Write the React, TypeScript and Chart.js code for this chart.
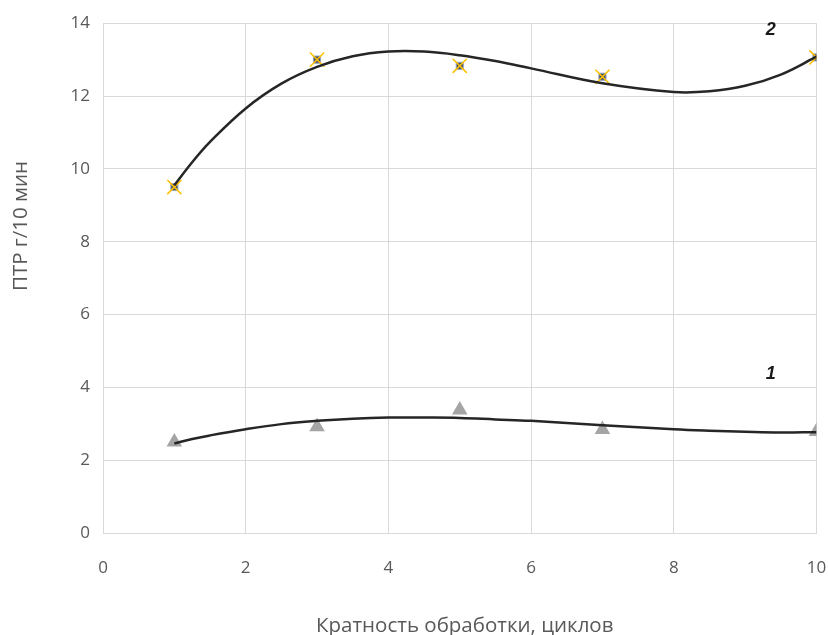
import React, { useEffect, useRef } from "react";
import { Chart, registerables } from "chart.js";

Chart.register(...registerables);

// Measured points
const cycles = [1, 3, 5, 7, 10];
const ptr1 = [2.5, 2.92, 3.38, 2.84, 2.79];
const ptr2 = [9.5, 13.0, 12.83, 12.53, 13.06];

// Polynomial trend curves
const trendX = [1, 1.25, 1.5, 2, 2.5, 3, 3.5, 4, 4.5, 5, 5.5, 6, 7, 8, 8.5, 9, 9.5, 10];
const trend1 = [2.46, 2.58, 2.68, 2.85, 2.99, 3.08, 3.14, 3.17, 3.17, 3.16, 3.12, 3.08, 2.96, 2.85, 2.81, 2.78, 2.76, 2.77];
const trend2 = [9.55, 10.18, 10.74, 11.66, 12.34, 12.8, 13.09, 13.22, 13.22, 13.12, 12.96, 12.76, 12.35, 12.11, 12.13, 12.28, 12.59, 13.08];

// Axis ranges / labels
const xMin = 0;
const xMax = 10;
const xStep = 2;
const yMin = 0;
const yMax = 14;
const yStep = 2;
const xTitle = "Кратность обработки, циклов";
const yTitle = "ПТР г/10 мин";
const curveLabels = ["1", "2"];

const FONT = "'Open Sans', 'Noto Sans', sans-serif";

export default function App() {
  const ref = useRef<HTMLCanvasElement | null>(null);

  useEffect(() => {
    document.body.style.margin = "0";
    const canvas = ref.current;
    if (!canvas) return;

    const pts = (xs: number[], ys: number[]) => xs.map((x, i) => ({ x, y: ys[i] }));

    const labelAnchors = [
      { x: 9.36, y: 4.36 },
      { x: 9.36, y: 13.81 },
    ];

    const textPlugin = {
      id: "axisTexts",
      afterDraw(chart: any) {
        const c = chart.ctx as CanvasRenderingContext2D;
        const { chartArea, scales } = chart;
        c.save();
        c.fillStyle = "#595959";
        c.font = `20.5px ${FONT}`;
        c.textAlign = "center";
        c.textBaseline = "middle";
        c.fillText(xTitle, (chartArea.left + chartArea.right) / 2 + 5, 626);
        c.translate(21, 226);
        c.rotate(-Math.PI / 2);
        c.fillText(yTitle, 0, 0);
        c.restore();

        c.save();
        c.fillStyle = "#1a1a1a";
        c.font = "italic bold 18px 'Liberation Sans', Arial, sans-serif";
        c.textAlign = "center";
        c.textBaseline = "middle";
        curveLabels.forEach((t, i) => {
          c.fillText(
            t,
            scales.x.getPixelForValue(labelAnchors[i].x),
            scales.y.getPixelForValue(labelAnchors[i].y)
          );
        });
        c.restore();
      },
    };

    const chart = new Chart(canvas, {
      type: "scatter",
      data: {
        datasets: [
          {
            label: "trend1",
            data: pts(trendX, trend1),
            showLine: true,
            borderColor: "#262626",
            borderWidth: 2.5,
            pointRadius: 0,
            tension: 0.4,
            order: 0,
          },
          {
            label: "trend2",
            data: pts(trendX, trend2),
            showLine: true,
            borderColor: "#262626",
            borderWidth: 2.5,
            pointRadius: 0,
            tension: 0.4,
            order: 0,
          },
          {
            label: "1",
            data: pts(cycles, ptr1),
            pointStyle: "triangle",
            pointRadius: 9,
            backgroundColor: "#A5A5A5",
            borderColor: "#A5A5A5",
            borderWidth: 0,
            order: 3,
          },
          {
            label: "2x",
            data: pts(cycles, ptr2),
            pointStyle: "crossRot",
            pointRadius: 10,
            borderColor: "#FFC000",
            borderWidth: 1.5,
            order: 1,
          },
          {
            label: "2",
            data: pts(cycles, ptr2),
            pointStyle: "rect",
            pointRadius: 5,
            backgroundColor: "#46505e",
            borderColor: "#8fa3ba",
            borderWidth: 1,
            order: 2,
          },
        ],
      } as any,
      options: {
        animation: false,
        responsive: false,
        maintainAspectRatio: false,
        layout: { padding: { top: 23, right: 11, left: 0, bottom: 0 } },
        plugins: {
          legend: { display: false },
          tooltip: { enabled: false },
        },
        scales: {
          x: {
            type: "linear",
            min: xMin,
            max: xMax,
            afterFit: (s: any) => {
              s.height = 102;
              s.paddingLeft = 0;
              s.paddingRight = 10;
            },
            ticks: {
              stepSize: xStep,
              color: "#595959",
              font: { family: FONT, size: 17 },
              padding: 25,
            },
            grid: { color: "#D9D9D9", lineWidth: 1, drawTicks: false },
            border: { color: "#D9D9D9" },
          },
          y: {
            type: "linear",
            min: yMin,
            max: yMax,
            afterFit: (s: any) => {
              s.width = 103;
            },
            ticks: {
              stepSize: yStep,
              color: "#595959",
              font: { family: FONT, size: 17 },
              padding: 13,
            },
            grid: { color: "#D9D9D9", lineWidth: 1, drawTicks: false },
            border: { color: "#D9D9D9" },
          },
        },
      } as any,
      plugins: [textPlugin],
    });

    return () => chart.destroy();
  }, []);

  return (
    <div style={{ width: 828, height: 635, background: "#fff" }}>
      <canvas ref={ref} width={828} height={635} style={{ display: "block" }} />
    </div>
  );
}
